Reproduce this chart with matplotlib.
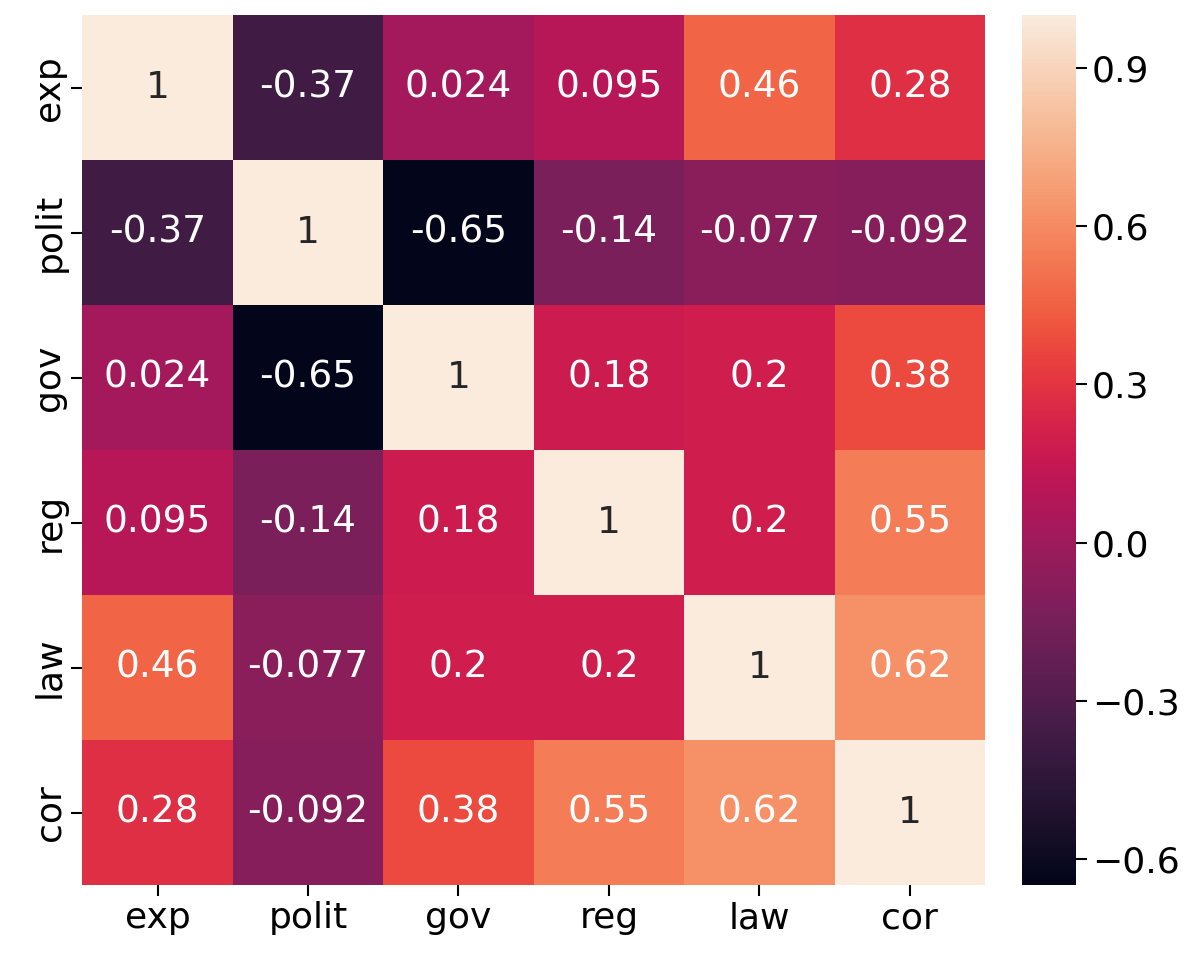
import numpy as np
import pandas as pd
import matplotlib
matplotlib.use("Agg")
import matplotlib.pyplot as plt
import seaborn as sns

labels = ["exp", "polit", "gov", "reg", "law", "cor"]
corr_values = [
    [1.0, -0.37, 0.024, 0.095, 0.46, 0.28],
    [-0.37, 1.0, -0.65, -0.14, -0.077, -0.092],
    [0.024, -0.65, 1.0, 0.18, 0.2, 0.38],
    [0.095, -0.14, 0.18, 1.0, 0.2, 0.55],
    [0.46, -0.077, 0.2, 0.2, 1.0, 0.62],
    [0.28, -0.092, 0.38, 0.55, 0.62, 1.0],
]
cbar_ticks = [-0.6, -0.3, 0.0, 0.3, 0.6, 0.9]

corr = pd.DataFrame(corr_values, index=labels, columns=labels)

fig = plt.figure(figsize=(11.94, 9.57), dpi=100)
ax = fig.add_axes([0.069, 0.075, 0.756, 0.909])
cax = fig.add_axes([0.856, 0.075, 0.045, 0.909])

sns.heatmap(corr, annot=True, ax=ax, cbar_ax=cax, annot_kws={"size": 27})

ax.tick_params(axis="both", labelsize=26, length=8, width=1.5)
ax.set_yticklabels(labels, rotation=90, va="center")
ax.set_xticklabels(labels, rotation=0)
cax.tick_params(labelsize=26, length=8, width=1.5)
cax.yaxis.set_major_locator(plt.FixedLocator(cbar_ticks))

fig.savefig("out.png", dpi=100)
